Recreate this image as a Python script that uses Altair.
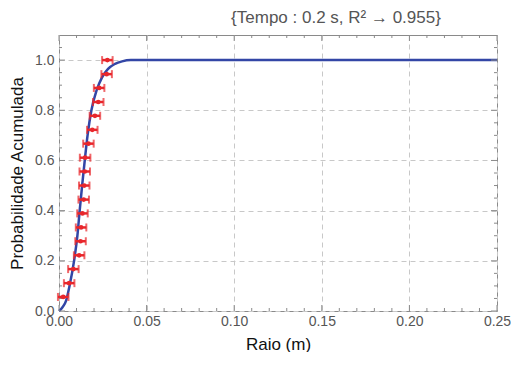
import altair as alt
import pandas as pd

# measured points (radius, cumulative probability)
pt_x = [0.0024, 0.0058, 0.0082, 0.0115, 0.0123, 0.0126, 0.0134, 0.0141, 0.0144,
        0.0147, 0.0149, 0.0168, 0.0190, 0.0205, 0.0224, 0.0229, 0.0272, 0.0276]
pt_y = [0.056, 0.111, 0.167, 0.222, 0.278, 0.333, 0.389, 0.444, 0.500,
        0.556, 0.611, 0.667, 0.722, 0.778, 0.833, 0.889, 0.944, 1.000]
x_err = 0.003

# fitted curve
fit_x = [0.0, 0.002, 0.004, 0.006, 0.0086, 0.0105, 0.0118, 0.0132, 0.0147, 0.0163,
         0.0185, 0.0215, 0.0245, 0.028, 0.032, 0.036, 0.041, 0.05, 0.25]
fit_y = [0.0, 0.015, 0.04, 0.10, 0.20, 0.30, 0.40, 0.50, 0.60, 0.70,
         0.80, 0.88, 0.93, 0.965, 0.985, 0.995, 1.0, 1.0, 1.0]

x_major = [0.0, 0.05, 0.10, 0.15, 0.20, 0.25]
x_minor = [0.01, 0.02, 0.03, 0.04, 0.06, 0.07, 0.08, 0.09, 0.11, 0.12, 0.13, 0.14,
           0.16, 0.17, 0.18, 0.19, 0.21, 0.22, 0.23, 0.24]
y_major = [0.0, 0.2, 0.4, 0.6, 0.8, 1.0]
y_minor = [0.05, 0.1, 0.15, 0.25, 0.3, 0.35, 0.45, 0.5, 0.55, 0.65, 0.7, 0.75,
           0.85, 0.9, 0.95, 1.05]

W, H = 438, 276
FONT = "Liberation Sans"
GRAY = "#555555"
TICK = "#8a8a8a"

pts = pd.DataFrame({"x": pt_x, "y": pt_y})
pts["lo"] = pts["x"] - x_err
pts["hi"] = pts["x"] + x_err
fit = pd.DataFrame({"x": fit_x, "y": fit_y})

xs = alt.Scale(domain=[0, 0.25], nice=False, zero=False, padding=0)
ys = alt.Scale(domain=[0, 1.1], nice=False, padding=0)

XA = alt.Axis(orient="bottom", values=x_major, format=".2f", ticks=False,
              domain=False, grid=True, gridDash=[5, 4], gridColor="#c8c8c8",
              labelFlush=False, labelOverlap=False,
              labelColor=GRAY, labelFont=FONT, labelFontSize=14, labelPadding=3,
              title="Raio (m)", titleFont=FONT, titleFontSize=17,
              titleFontWeight="normal", titleColor="#111111", titlePadding=8)
YA = alt.Axis(orient="left", values=y_major, format=".1f", ticks=False,
              domain=False, grid=True, gridDash=[5, 4], gridColor="#c8c8c8",
              labelFlush=False, labelOverlap=False,
              labelColor=GRAY, labelFont=FONT, labelFontSize=14, labelPadding=5,
              title="Probabilidade  Acumulada", titleFont=FONT, titleFontSize=17,
              titleFontWeight="normal", titleColor="#111111", titlePadding=8)

line = alt.Chart(fit).mark_line(color="#3346a6", strokeWidth=2.5, interpolate="monotone").encode(
    x=alt.X("x:Q", scale=xs, axis=XA),
    y=alt.Y("y:Q", scale=ys, axis=YA),
)

xmaj = pd.DataFrame({"v": x_major})
xmin = pd.DataFrame({"v": x_minor})
ymaj = pd.DataFrame({"v": y_major})
ymin = pd.DataFrame({"v": y_minor})


def xticks(df, size):
    bottom = alt.Chart(df).mark_rule(color=TICK, strokeWidth=1).encode(
        x=alt.X("v:Q", scale=xs, axis=XA), y=alt.value(H), y2=alt.value(H - size))
    top = alt.Chart(df).mark_rule(color=TICK, strokeWidth=1).encode(
        x=alt.X("v:Q", scale=xs, axis=XA), y=alt.value(0), y2=alt.value(size))
    return [bottom, top]


def yticks(df, size):
    left = alt.Chart(df).mark_rule(color=TICK, strokeWidth=1).encode(
        y=alt.Y("v:Q", scale=ys, axis=YA), x=alt.value(0), x2=alt.value(size))
    right = alt.Chart(df).mark_rule(color=TICK, strokeWidth=1).encode(
        y=alt.Y("v:Q", scale=ys, axis=YA), x=alt.value(W), x2=alt.value(W - size))
    return [left, right]


tick_layers = xticks(xmaj, 6) + xticks(xmin, 3) + yticks(ymaj, 6) + yticks(ymin, 3)

RED = "#e8262b"
bars = alt.Chart(pts).mark_rule(color=RED, strokeWidth=2.5).encode(
    x=alt.X("lo:Q", scale=xs, axis=XA), x2="hi:Q", y=alt.Y("y:Q", scale=ys, axis=YA))
cap_lo = alt.Chart(pts).mark_tick(color=RED, orient="vertical", size=8, thickness=2).encode(
    x=alt.X("lo:Q", scale=xs, axis=XA), y=alt.Y("y:Q", scale=ys, axis=YA))
cap_hi = alt.Chart(pts).mark_tick(color=RED, orient="vertical", size=8, thickness=2).encode(
    x=alt.X("hi:Q", scale=xs, axis=XA), y=alt.Y("y:Q", scale=ys, axis=YA))
dots = alt.Chart(pts).mark_point(color=RED, filled=True, opacity=1, size=22).encode(
    x=alt.X("x:Q", scale=xs, axis=XA), y=alt.Y("y:Q", scale=ys, axis=YA))

chart = alt.layer(line, *tick_layers, bars, cap_lo, cap_hi, dots).properties(
    width=W, height=H,
    padding={"left": 0, "top": 0, "right": 0, "bottom": 0},
    title=alt.TitleParams("{Tempo : 0.2 s, R² → 0.955}", font=FONT, fontSize=17,
                          fontWeight="normal", color=GRAY, anchor="middle", dx=58,
                          offset=8),
).configure_view(stroke="#8a8a8a", strokeWidth=1)

chart.save("out.html", embed_options={"renderer": "svg", "actions": False})
